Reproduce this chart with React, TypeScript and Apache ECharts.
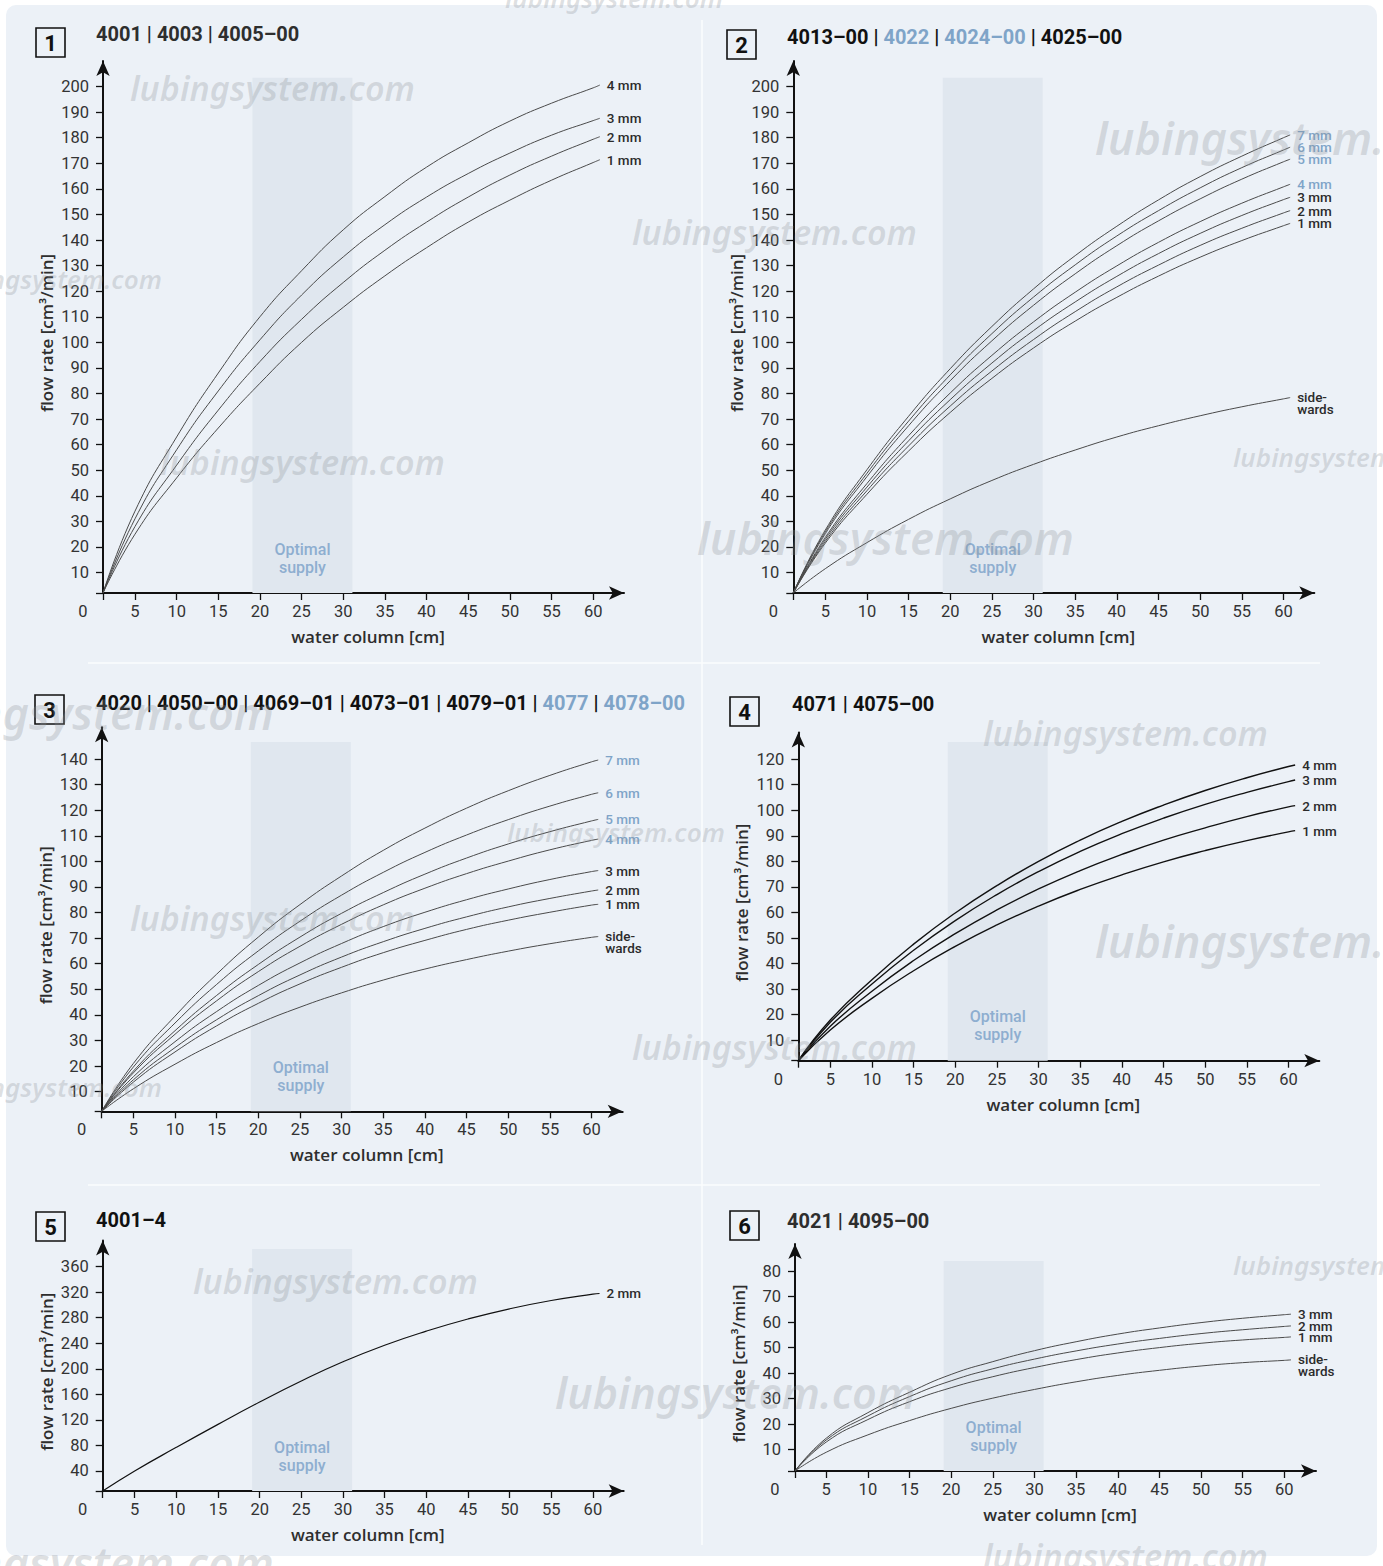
import React, { useEffect, useRef } from "react";
import * as echarts from "echarts";

const FONT = "Roboto, 'Noto Sans', sans-serif";
const NAME_FONT = "'Open Sans', Roboto, sans-serif";
const WM_FONT = "'Noto Sans', 'Open Sans', sans-serif";
const TXT = "#2e2e2e";
const BLUE = "#7fa4c8";

// x positions (water column, cm) of the read values
const X_LABELS = [5, 10, 15, 20, 25, 30, 35, 40, 45, 50, 55, 60];
const CURVE_X = [5, 10, 15, 20, 25, 30, 35, 40, 45, 50, 55, 60, 60.8];
const BAND = [19.1, 31.1];

// ---- Panel 1: 4001 | 4003 | 4005-00
const P1_Y = [10, 20, 30, 40, 50, 60, 70, 80, 90, 100, 110, 120, 130, 140, 150, 160, 170, 180, 190, 200];
const P1_4MM = [34, 63, 88, 110, 128, 144, 157, 168.5, 178, 186.5, 193.5, 199.5, 200.6];
const P1_3MM = [31, 58, 81, 101, 118.5, 133.4, 146, 156.8, 166, 174, 181, 186.7, 187.6];
const P1_2MM = [28, 52, 73.5, 92.5, 109, 123.4, 136, 147, 156.8, 165.4, 172.8, 179.4, 180.4];
const P1_1MM = [25, 47, 66.5, 84, 100, 113.7, 126, 137, 147, 155.6, 163.4, 170.3, 171.4];

// ---- Panel 2: 4013-00 | 4022 | 4024-00 | 4025-00
const P2_Y = P1_Y;
const P2_7MM = [26.6, 50.2, 71.1, 89.7, 106.2, 120.9, 133.9, 145.4, 155.7, 164.8, 172.8, 180, 181.1];
const P2_6MM = [25.9, 48.8, 69.2, 87.3, 103.4, 117.7, 130.3, 141.6, 151.5, 160.4, 168.3, 175.2, 176.3];
const P2_5MM = [25.2, 47.5, 67.4, 85, 100.6, 114.5, 126.8, 137.8, 147.5, 156.1, 163.8, 170.6, 171.6];
const P2_4MM = [23.7, 44.8, 63.5, 80.2, 94.9, 108, 119.6, 129.9, 139.1, 147.2, 154.4, 160.8, 161.8];
const P2_3MM = [23, 43.4, 61.5, 77.6, 91.9, 104.6, 115.8, 125.8, 134.7, 142.6, 149.6, 155.8, 156.7];
const P2_2MM = [22.2, 42, 59.5, 75.1, 88.8, 101.1, 112, 121.7, 130.2, 137.9, 144.6, 150.6, 151.5];
const P2_1MM = [21.5, 40.6, 57.5, 72.6, 85.9, 97.8, 108.3, 117.6, 125.9, 133.3, 139.8, 145.6, 146.5];
const P2_SIDE = [11.5, 21.7, 30.8, 38.8, 46, 52.3, 57.9, 63, 67.4, 71.3, 74.8, 77.9, 78.4];

// ---- Panel 3: 4020 | 4050-00 | 4069-01 | 4073-01 | 4079-01 | 4077 | 4078-00
const P3_Y = [10, 20, 30, 40, 50, 60, 70, 80, 90, 100, 110, 120, 130, 140];
const P3_7MM = [21, 39.5, 55.9, 70.4, 83.1, 94.3, 104.3, 113, 120.8, 127.6, 133.6, 138.9, 139.6];
const P3_6MM = [19.6, 36.8, 51.9, 65, 76.6, 86.8, 95.7, 103.5, 110.3, 116.3, 121.6, 126.2, 126.8];
const P3_5MM = [18, 33.8, 47.6, 59.7, 70.4, 79.7, 87.8, 95, 101.3, 106.8, 111.6, 115.8, 116.4];
const P3_4MM = [17.3, 32.4, 45.5, 56.9, 66.8, 75.4, 83, 89.5, 95.2, 100.1, 104.5, 108.2, 108.7];
const P3_3MM = [15.8, 29.5, 41.3, 51.5, 60.3, 67.9, 74.5, 80.1, 85, 89.2, 92.9, 96, 96.4];
const P3_2MM = [14.6, 27.2, 38.1, 47.5, 55.6, 62.6, 68.6, 73.8, 78.3, 82.2, 85.5, 88.4, 88.8];
const P3_1MM = [13.7, 25.5, 35.7, 44.5, 52.1, 58.6, 64.3, 69.1, 73.4, 77, 80.1, 82.9, 83.2];
const P3_SIDE = [11.1, 20.7, 29.2, 36.6, 43, 48.6, 53.6, 57.9, 61.6, 64.9, 67.8, 70.3, 70.6];

// ---- Panel 4: 4071 | 4075-00
const P4_Y = [10, 20, 30, 40, 50, 60, 70, 80, 90, 100, 110, 120];
const P4_4MM = [17.9, 33.7, 47.6, 59.8, 70.5, 80, 88.3, 95.6, 102, 107.7, 112.7, 117.1, 117.7];
const P4_3MM = [17, 32, 45.2, 56.8, 67, 76, 83.9, 90.8, 96.9, 102.3, 107, 111.2, 111.8];
const P4_2MM = [15.5, 29.2, 41.2, 51.7, 61, 69.2, 76.4, 82.7, 88.3, 93.1, 97.5, 101.3, 101.8];
const P4_1MM = [14, 26.4, 37.2, 46.7, 55.1, 62.5, 69, 74.7, 79.8, 84.2, 88.1, 91.5, 92];

// ---- Panel 5: 4001-4
const P5_Y = [40, 80, 120, 160, 200, 240, 280, 320, 360];
const P5_2MM = [40, 77, 113, 148, 181, 211, 237, 259, 278, 294, 307, 317, 318];

// ---- Panel 6: 4021 | 4095-00
const P6_Y = [10, 20, 30, 40, 50, 60, 70, 80];
const P6_3MM = [14.5, 24.5, 32.5, 39.5, 44.5, 48.8, 52.3, 55.3, 57.7, 59.8, 61.5, 62.9, 63.1];
const P6_2MM = [13.8, 23.2, 30.8, 37, 41.7, 45.5, 48.7, 51.4, 53.6, 55.5, 57, 58.3, 58.5];
const P6_1MM = [13, 21.8, 28.8, 34.3, 38.6, 42.2, 45.3, 47.9, 50, 51.7, 53, 54, 54.2];
const P6_SIDE = [9, 15.8, 21.4, 26.2, 30.2, 33.6, 36.6, 39.1, 41.1, 42.8, 44.1, 45, 45.2];

type Curve = { name: string; values: number[]; blue?: boolean; side?: boolean };
type Panel = {
  grid: { left: number; top: number; width: number; height: number };
  x: number[];
  y: number[];
  yTicks: number[];
  bandTop: number;
  curves: Curve[];
  lineColor: string;
  lineWidth: number;
};

const PANELS: Panel[] = [
  {
    grid: { left: 103, top: 61, width: 521, height: 532 },
    x: [1.16, 63.7], y: [2, 210], yTicks: P1_Y, bandTop: 203.5,
    lineColor: "#4a4a4a", lineWidth: 1,
    curves: [
      { name: "4 mm", values: P1_4MM },
      { name: "3 mm", values: P1_3MM },
      { name: "2 mm", values: P1_2MM },
      { name: "1 mm", values: P1_1MM },
    ],
  },
  {
    grid: { left: 793.3, top: 61, width: 521, height: 532 },
    x: [1.16, 63.7], y: [2, 210], yTicks: P2_Y, bandTop: 203.5,
    lineColor: "#4a4a4a", lineWidth: 1,
    curves: [
      { name: "7 mm", values: P2_7MM, blue: true },
      { name: "6 mm", values: P2_6MM, blue: true },
      { name: "5 mm", values: P2_5MM, blue: true },
      { name: "4 mm", values: P2_4MM, blue: true },
      { name: "3 mm", values: P2_3MM },
      { name: "2 mm", values: P2_2MM },
      { name: "1 mm", values: P2_1MM },
      { name: "side-\nwards", values: P2_SIDE, side: true },
    ],
  },
  {
    grid: { left: 101.7, top: 727.3, width: 521, height: 384 },
    x: [1.2, 63.74], y: [2.3, 152.4], yTicks: P3_Y, bandTop: 146.7,
    lineColor: "#4a4a4a", lineWidth: 1,
    curves: [
      { name: "7 mm", values: P3_7MM, blue: true },
      { name: "6 mm", values: P3_6MM, blue: true },
      { name: "5 mm", values: P3_5MM, blue: true },
      { name: "4 mm", values: P3_4MM, blue: true },
      { name: "3 mm", values: P3_3MM },
      { name: "2 mm", values: P3_2MM },
      { name: "1 mm", values: P3_1MM },
      { name: "side-\nwards", values: P3_SIDE, side: true },
    ],
  },
  {
    grid: { left: 798.3, top: 732.5, width: 521, height: 328.2 },
    x: [1.16, 63.7], y: [2, 130.4], yTicks: P4_Y, bandTop: 126.7,
    lineColor: "#111111", lineWidth: 1.4,
    curves: [
      { name: "4 mm", values: P4_4MM },
      { name: "3 mm", values: P4_3MM },
      { name: "2 mm", values: P4_2MM },
      { name: "1 mm", values: P4_1MM },
    ],
  },
  {
    grid: { left: 102.7, top: 1240.5, width: 521, height: 250.5 },
    x: [1.16, 63.7], y: [8.6, 401], yTicks: P5_Y, bandTop: 387.7,
    lineColor: "#111111", lineWidth: 1.2,
    curves: [{ name: "2 mm", values: P5_2MM }],
  },
  {
    grid: { left: 795, top: 1244, width: 521, height: 227 },
    x: [1.25, 63.8], y: [1.65, 90.6], yTicks: P6_Y, bandTop: 83.9,
    lineColor: "#4a4a4a", lineWidth: 1,
    curves: [
      { name: "3 mm", values: P6_3MM },
      { name: "2 mm", values: P6_2MM },
      { name: "1 mm", values: P6_1MM },
      { name: "side-\nwards", values: P6_SIDE, side: true },
    ],
  },
];

const TITLES = [
  { num: "1", box: [36, 28], text: "4001 | 4003 | 4005–00", at: [96, 34], color: "#2e2e2e" },
  { num: "2", box: [727, 30], text: "4013–00 | {b|4022} | {b|4024–00} | 4025–00", at: [787, 37], color: "#111" },
  { num: "3", box: [35, 695], text: "4020 | 4050–00 | 4069–01 | 4073–01 | 4079–01 | {b|4077} | {b|4078–00}", at: [96, 703], color: "#111" },
  { num: "4", box: [730, 697], text: "4071 | 4075–00", at: [792, 704], color: "#111" },
  { num: "5", box: [36, 1212], text: "4001–4", at: [96, 1220], color: "#111" },
  { num: "6", box: [730, 1211], text: "4021 | 4095–00", at: [787, 1221], color: "#2e2e2e" },
];

const WATERMARKS: [number, number, number][] = [
  [130, 88, 34], [505, -2, 26], [632, 232, 34], [1095, 137, 45], [-56, 279, 26],
  [160, 462, 34], [1233, 457, 26], [697, 537, 45], [-103, 712, 45], [983, 733, 34],
  [507, 832, 26], [130, 918, 34], [1095, 940, 45], [632, 1047, 34], [-56, 1087, 26],
  [193, 1281, 34], [1233, 1265, 26], [555, 1392, 43], [-103, 1562, 45], [983, 1556, 34],
];

function buildOption() {
  const grid = PANELS.map((p) => ({ ...p.grid }));
  const xAxis = PANELS.map((p, i) => ({
    type: "value",
    gridIndex: i,
    min: p.x[0],
    max: p.x[1],
    splitLine: { show: false },
    axisLine: {
      show: true,
      onZero: false,
      symbol: ["none", "arrow"],
      symbolSize: [10, 15],
      lineStyle: { color: "#111", width: 2 },
    },
    axisTick: {
      show: true,
      customValues: [p.x[0], ...X_LABELS],
      length: 7,
      lineStyle: { color: "#111", width: 1.3 },
    },
    axisLabel: {
      show: true,
      customValues: [p.x[0], ...X_LABELS],
      margin: 10,
      color: "#333",
      fontSize: 16.5,
      fontFamily: FONT,
      formatter: (v: number) => (v < 4 ? "{z|0}" : String(v)),
      rich: { z: { fontSize: 16.5, fontFamily: FONT, color: "#333", padding: [0, 40, 0, 0] } },
    },
    name: "water column [cm]",
    nameLocation: "middle",
    nameGap: 35,
    nameTextStyle: { fontSize: 17, fontWeight: 600, color: TXT, fontFamily: NAME_FONT, padding: [0, 0, 0, 9] },
  }));
  const yAxis = PANELS.map((p, i) => ({
    type: "value",
    gridIndex: i,
    min: p.y[0],
    max: p.y[1],
    splitLine: { show: false },
    axisLine: {
      show: true,
      onZero: false,
      symbol: ["none", "arrow"],
      symbolSize: [10, 15],
      lineStyle: { color: "#111", width: 2 },
    },
    axisTick: {
      show: true,
      customValues: [p.y[0], ...p.yTicks],
      length: 7,
      lineStyle: { color: "#111", width: 1.3 },
    },
    axisLabel: {
      show: true,
      customValues: p.yTicks,
      margin: 14,
      color: "#333",
      fontSize: 16.5,
      fontFamily: FONT,
    },
    name: "flow rate [cm³/min]",
    nameLocation: "middle",
    nameGap: 48,
    nameRotate: 90,
    nameTextStyle: { fontSize: 17, fontWeight: 600, color: TXT, fontFamily: NAME_FONT, padding: [0, 12, 0, 0] },
  }));

  const series: any[] = [];
  PANELS.forEach((p, i) => {
    series.push({
      type: "line",
      xAxisIndex: i,
      yAxisIndex: i,
      data: [[p.x[0], p.y[0]]],
      symbol: "none",
      lineStyle: { width: 0 },
      silent: true,
      z: 1,
      markArea: {
        silent: true,
        itemStyle: { color: "#e0e7ef" },
        label: {
          show: true,
          position: "insideBottom",
          distance: 17,
          formatter: "Optimal\nsupply",
          color: "#8eaed0",
          fontSize: 16,
          lineHeight: 18,
          fontWeight: 500,
          fontFamily: FONT,
        },
        data: [[{ xAxis: BAND[0], yAxis: p.y[0] }, { xAxis: BAND[1], yAxis: p.bandTop }]],
      },
    });
    p.curves.forEach((c) => {
      const data = [[p.x[0], p.y[0]], ...CURVE_X.map((x, k) => [x, c.values[k]])];
      series.push({
        type: "line",
        name: c.name,
        xAxisIndex: i,
        yAxisIndex: i,
        data,
        smooth: 0.5,
        symbol: "none",
        showSymbol: false,
        silent: true,
        z: 3,
        lineStyle: { color: p.lineColor, width: p.lineWidth },
        endLabel: {
          show: true,
          formatter: () => c.name,
          distance: 7,
          color: c.blue ? BLUE : "#2b2b2b",
          fontSize: 13.5,
          lineHeight: 12,
          fontWeight: 500,
          fontFamily: FONT,
          offset: c.side ? [0, 5] : [0, 0],
        },
      });
    });
  });

  const graphic: any[] = [
    { type: "rect", z: -100, shape: { x: 6, y: 5, width: 1371, height: 1551, r: 10 }, style: { fill: "#ecf1f7" } },
    { type: "line", z: -90, shape: { x1: 702, y1: 20, x2: 702, y2: 1545 }, style: { stroke: "#fbfcfe", lineWidth: 1.5 } },
    { type: "line", z: -90, shape: { x1: 88, y1: 663, x2: 1320, y2: 663 }, style: { stroke: "#fbfcfe", lineWidth: 1.5 } },
    { type: "line", z: -90, shape: { x1: 88, y1: 1185, x2: 1320, y2: 1185 }, style: { stroke: "#fbfcfe", lineWidth: 1.5 } },
  ];
  TITLES.forEach((t) => {
    graphic.push({
      type: "rect",
      z: 10,
      shape: { x: t.box[0], y: t.box[1], width: 29, height: 29 },
      style: { fill: "none", stroke: "#111", lineWidth: 1.6 },
    });
    graphic.push({
      type: "text",
      z: 10,
      x: t.box[0] + 14.5,
      y: t.box[1] + 15.5,
      style: { text: t.num, fill: "#111", fontSize: 22, fontWeight: "bold", fontFamily: FONT, align: "center", verticalAlign: "middle" },
    });
    graphic.push({
      type: "text",
      z: 10,
      x: t.at[0],
      y: t.at[1],
      style: {
        text: t.text,
        fill: t.color,
        fontSize: 20,
        fontWeight: "bold",
        fontFamily: FONT,
        align: "left",
        verticalAlign: "middle",
        rich: { b: { fill: BLUE, fontSize: 20, fontWeight: "bold", fontFamily: FONT } },
      },
    });
  });
  WATERMARKS.forEach(([x, y, s]) => {
    graphic.push({
      type: "text",
      z: 50,
      x,
      y,
      silent: true,
      style: {
        text: "lubingsystem.com",
        fill: "rgba(140,146,152,0.28)",
        fontSize: s,
        fontStyle: "italic",
        fontWeight: 600,
        fontFamily: WM_FONT,
        align: "left",
        verticalAlign: "middle",
      },
    });
  });

  return { animation: false, grid, xAxis, yAxis, series, graphic };
}

export default function App() {
  const ref = useRef<HTMLDivElement>(null);
  useEffect(() => {
    if (!ref.current) return;
    const chart = echarts.init(ref.current, undefined, { renderer: "svg" });
    chart.setOption(buildOption() as any);
    return () => chart.dispose();
  }, []);
  return (
    <div
      ref={ref}
      style={{ position: "absolute", left: 0, top: 0, width: 1383, height: 1566, background: "#ffffff" }}
    />
  );
}
